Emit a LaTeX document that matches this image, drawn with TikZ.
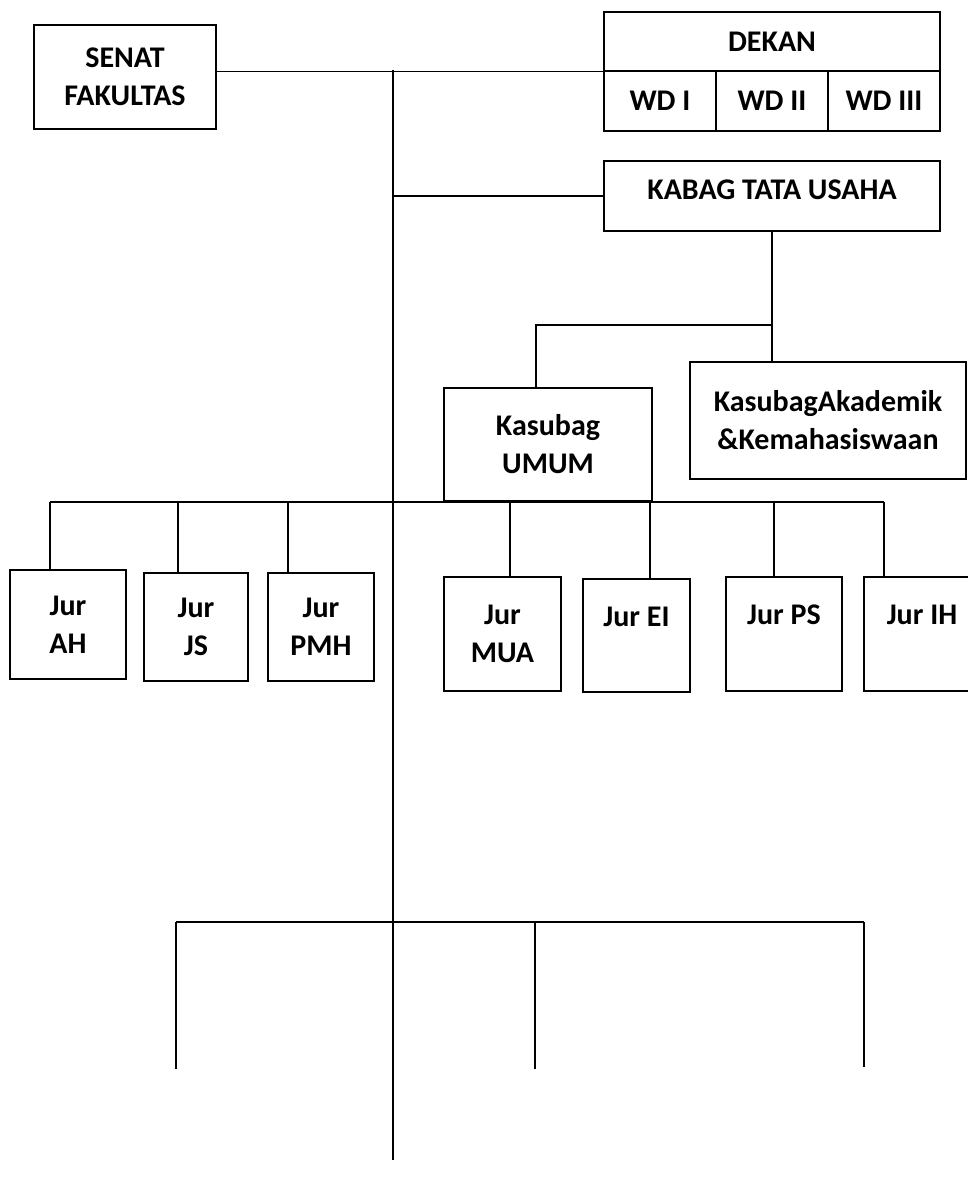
\documentclass[tikz,border=0pt]{standalone}
\usepackage{fontspec}
\setmainfont{Carlito}
\begin{document}
\begin{tikzpicture}[x=1pt,y=-1pt,
  box/.style={draw, line width=1.3pt, inner sep=0pt, align=center,
    font=\bfseries\fontsize{30}{38}\selectfont},
  conn/.style={line width=1.5pt}]
\useasboundingbox (0,0) rectangle (968,1187);
% boxes
\node[box, minimum width=182pt, minimum height=104pt] (senat) at (125,77) {SENAT\\FAKULTAS};
\node[box, minimum width=336pt, minimum height=59pt] (dekan) at (772,41.5) {DEKAN};
\node[box, minimum width=112pt, minimum height=60pt] (wd1) at (660,101) {WD I};
\node[box, minimum width=112pt, minimum height=60pt] (wd2) at (772,101) {WD II};
\node[box, minimum width=112pt, minimum height=60pt] (wd3) at (884,101) {WD III};
\node[box, minimum width=336pt, minimum height=70pt, text depth=12pt] (kabag) at (772,196) {KABAG TATA USAHA};
\node[box, minimum width=208pt, minimum height=113pt] (umum) at (548,444.5) {Kasubag\\UMUM};
\node[box, minimum width=276pt, minimum height=117pt] (akad) at (828,420.5) {KasubagAkademik\\\&Kemahasiswaan};
\node[box, minimum width=116pt, minimum height=109pt] (ah) at (68,624.5) {Jur\\AH};
\node[box, minimum width=104pt, minimum height=108pt] (js) at (196,627) {Jur\\JS};
\node[box, minimum width=106pt, minimum height=108pt] (pmh) at (321,627) {Jur\\PMH};
\node[box, minimum width=117pt, minimum height=114pt] (mua) at (502.5,634) {Jur\\MUA};
\node[box, minimum width=107pt, minimum height=113pt] (ei) at (636.5,635.5) {Jur EI\\\phantom{MUA}};
\node[box, minimum width=116pt, minimum height=114pt] (ps) at (784,634) {Jur PS\\\phantom{MUA}};
\node[box, minimum width=116pt, minimum height=114pt] (ih) at (922,634) {Jur IH\\\phantom{MUA}};
% junction coordinates
\coordinate (ttop) at (393,70);
\coordinate (tbot) at (393,1160);
\coordinate (uj) at (536,325);
\coordinate (j1) at (50,502);
\coordinate (j2) at (178,502);
\coordinate (j3) at (288,502);
\coordinate (j4) at (510,502);
\coordinate (j5) at (650,502);
\coordinate (j6) at (774,502);
\coordinate (j7) at (884,502);
\coordinate (b1) at (176,922);
\coordinate (b2) at (535,922);
\coordinate (b3) at (864,922);
\coordinate (d1) at (176,1069);
\coordinate (d2) at (535,1069);
\coordinate (d3) at (864,1067);
% connectors
\draw[conn] (senat.east |- dekan.south west) -- (dekan.south west);
\draw[conn] (ttop) -- (tbot);
\draw[conn] (ttop |- kabag.west) -- (kabag.west);
\draw[conn] (kabag.south) -- (kabag.south |- akad.north);
\draw[conn] (uj -| kabag.south) -- (uj) -- (uj |- umum.north);
\draw[conn] (j1) -- (j7);
\draw[conn] (j1) -- (j1 |- ah.north);
\draw[conn] (j2) -- (j2 |- js.north);
\draw[conn] (j3) -- (j3 |- pmh.north);
\draw[conn] (j4) -- (j4 |- mua.north);
\draw[conn] (j5) -- (j5 |- ei.north);
\draw[conn] (j6) -- (j6 |- ps.north);
\draw[conn] (j7) -- (j7 |- ih.north);
\draw[conn] (b1) -- (b3);
\draw[conn] (b1) -- (d1);
\draw[conn] (b2) -- (d2);
\draw[conn] (b3) -- (d3);
\end{tikzpicture}
\end{document}
